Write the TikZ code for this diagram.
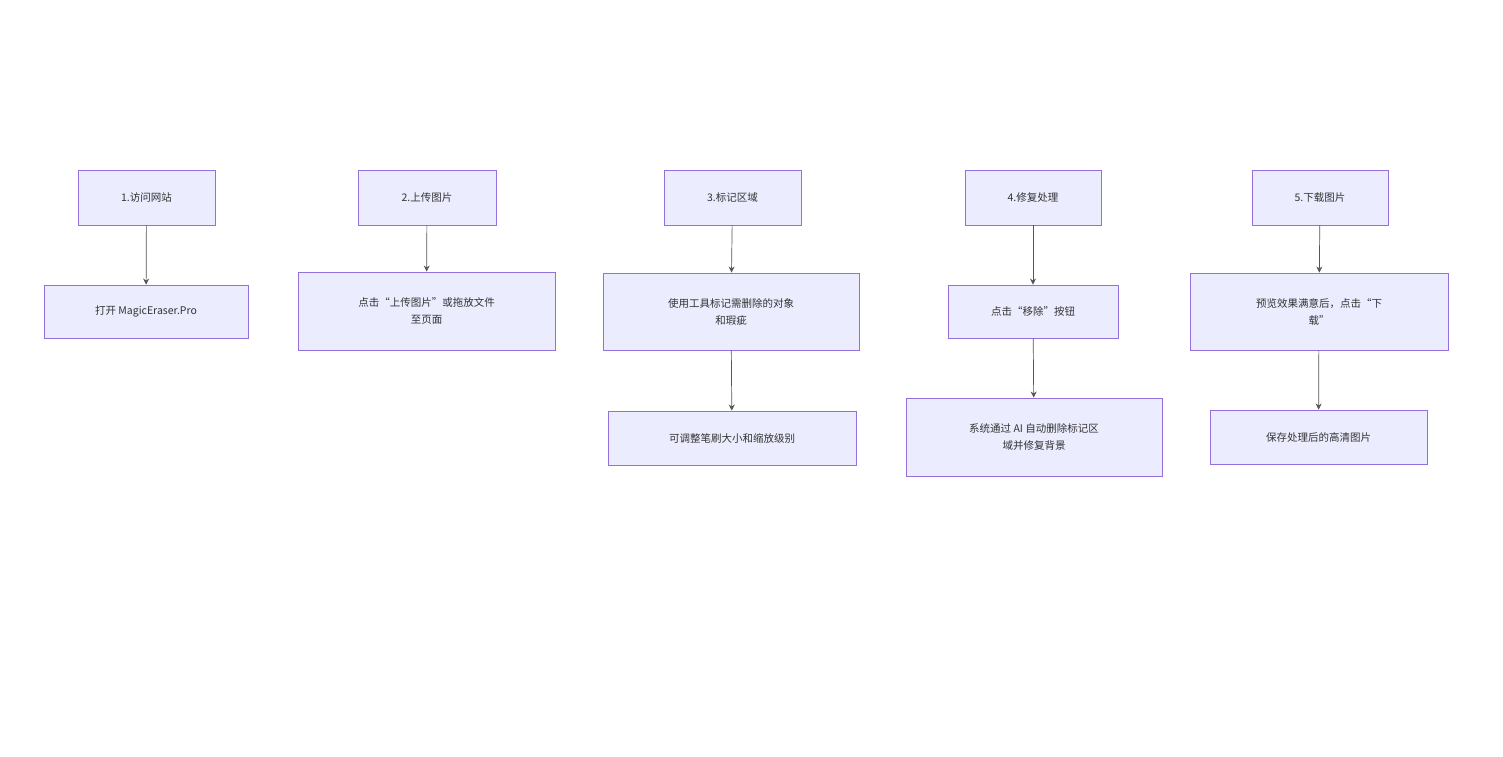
\documentclass[tikz,border=0pt]{standalone}
\usepackage{fontspec}
\setmainfont{Noto Sans CJK SC}
\usetikzlibrary{arrows.meta}
\definecolor{bfill}{HTML}{ECECFF}
\definecolor{bstroke}{HTML}{9370DB}
\definecolor{txt}{HTML}{333333}
\definecolor{arr}{HTML}{555555}
\begin{document}
\begin{tikzpicture}[x=1pt,y=-1pt,
  box/.style={draw=bstroke,fill=bfill,line width=0.9pt,text=txt,align=center,font=\fontsize{10.5}{17}\selectfont,inner sep=0pt},
  conn/.style={draw=arr,line width=0.7pt,-{Stealth[length=6pt,width=6pt]}}]
\useasboundingbox (0,0) rectangle (1503,756);
\newcommand{\bx}[6]{\node[box,minimum width=#4-#2,minimum height=#5-#3] (#1) at ({(#2+#4)/2},{(#3+#5)/2}) {#6};}
\bx{t1}{78}{170}{215}{225}{1.访问网站}
\bx{t2}{358}{170}{496}{225}{2.上传图片}
\bx{t3}{664}{170}{801}{225}{3.标记区域}
\bx{t4}{965}{170}{1101}{225}{4.修复处理}
\bx{t5}{1252}{170}{1388}{225}{5.下载图片}
\bx{a}{44}{285}{248}{338}{打开 MagicEraser.Pro}
\bx{b}{298}{272}{555}{350}{点击“上传图片”或拖放文件\\至页面}
\bx{c}{603}{273}{859}{350}{使用工具标记需删除的对象\\和瑕疵}
\bx{d}{948}{285}{1118}{338}{点击“移除”按钮}
\bx{e}{1190}{273}{1448}{350}{预览效果满意后，点击“下\\载”}
\bx{c2}{608}{411}{856}{465}{可调整笔刷大小和缩放级别}
\bx{d2}{906}{398}{1162}{476}{系统通过 AI 自动删除标记区\\域并修复背景}
\bx{e2}{1210}{410}{1427}{464}{保存处理后的高清图片}
\draw[conn] (t1) -- (a);
\draw[conn] (t2) -- (b);
\draw[conn] (t3) -- (c);
\draw[conn] (t4) -- (d);
\draw[conn] (t5) -- (e);
\draw[conn] (c) -- (c2);
\draw[conn] (d) -- (d2);
\draw[conn] (e) -- (e2);
\end{tikzpicture}
\end{document}
